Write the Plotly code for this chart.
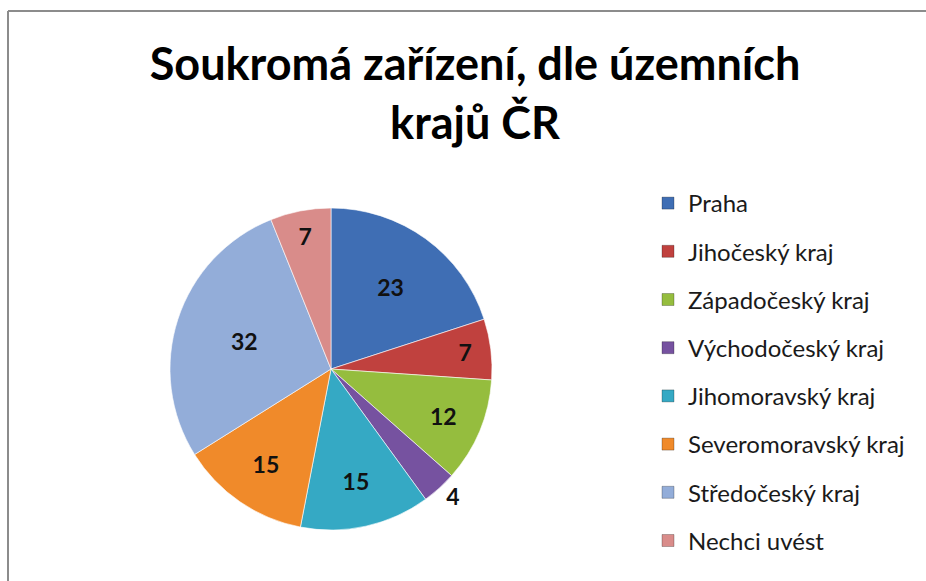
import plotly.graph_objects as go

categories = ["Praha", "Jihočeský kraj", "Západočeský kraj", "Východočeský kraj",
              "Jihomoravský kraj", "Severomoravský kraj", "Středočeský kraj", "Nechci uvést"]
values = [23, 7, 12, 4, 15, 15, 32, 7]
colors = ["#3F6EB4", "#C0413E", "#95BD3E", "#7652A0", "#35A9C4", "#F08A2A", "#93ADD9", "#D98C8A"]
text_positions = ["inside", "inside", "inside", "outside", "inside", "inside", "inside", "inside"]

title_text = "Soukromá zařízení, dle územních<br>krajů ČR"
FONT = "Lato"
W, H = 926, 581

fig = go.Figure()
fig.add_trace(go.Pie(
    labels=categories, values=values, sort=False, direction="clockwise", rotation=0,
    marker=dict(colors=colors, line=dict(color="rgba(255,255,255,0.6)", width=1)),
    texttemplate="<b>%{value}</b>", textposition=text_positions, insidetextorientation="horizontal",
    textfont=dict(family=FONT, size=23, color="#111111"),
    outsidetextfont=dict(family=FONT, size=23, color="#111111"),
    showlegend=False,
    domain=dict(x=[170 / W, 492 / W], y=[1 - 530 / H, 1 - 208 / H]),
))
for c, col in zip(categories, colors):
    fig.add_trace(go.Scatter(
        x=[None], y=[None], mode="markers", name=c, legendgroup=c,
        marker=dict(symbol="square", size=12, color=col, line=dict(color="rgba(0,0,0,0.25)", width=1)),
    ))

fig.update_layout(
    width=W, height=H,
    margin=dict(l=0, r=0, t=0, b=0),
    paper_bgcolor="white", plot_bgcolor="white",
    font=dict(family=FONT),
    title=dict(text="<b>" + title_text + "</b>", x=475 / W, xanchor="center", y=1 - 80 / H, yanchor="top",
               font=dict(family=FONT, size=45, color="#000000")),
    xaxis=dict(visible=False), yaxis=dict(visible=False),
    legend=dict(x=648 / W, xanchor="left", y=1 - 181 / H, yanchor="top", tracegroupgap=14,
                font=dict(family=FONT, size=24, color="#1a1a1a"), itemwidth=30,
                bgcolor="rgba(0,0,0,0)"),
    shapes=[
        dict(type="line", xref="paper", yref="paper", x0=8 / W, x1=1.0, y0=1 - 11 / H, y1=1 - 11 / H,
             line=dict(color="#8C8C8C", width=2)),
        dict(type="line", xref="paper", yref="paper", x0=8 / W, x1=8 / W, y0=0.0, y1=1 - 11 / H,
             line=dict(color="#8C8C8C", width=2)),
    ],
)

fig.write_html("out.html", config={"displayModeBar": False},
               post_script="document.body.style.margin='0px';")
